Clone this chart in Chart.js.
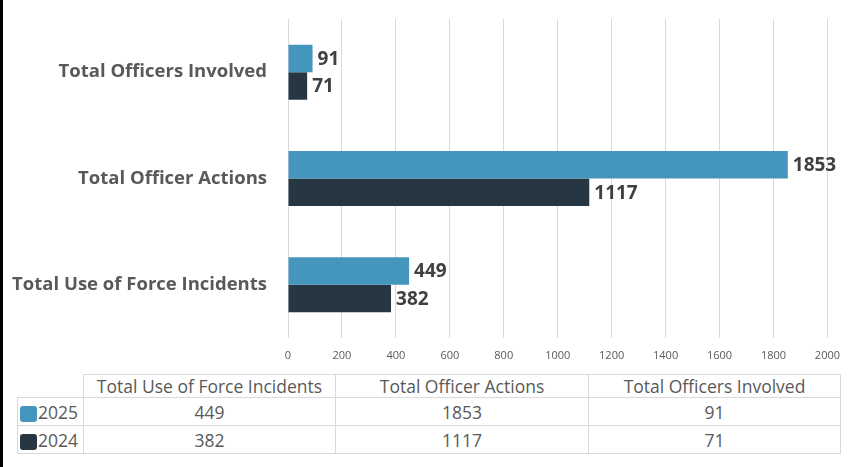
<!DOCTYPE html>
<html>
<head>
<meta charset="utf-8">
<script src="https://cdn.jsdelivr.net/npm/chart.js@4"></script>
<style>
  html, body { margin: 0; padding: 0; background: #fff; }
  body { width: 851px; height: 467px; position: relative; overflow: hidden; font-family: "Open Sans", sans-serif; }
  #faixa { position: absolute; left: 0; top: 0; width: 3px; height: 467px; background: #000; z-index: 2; }
  #grafico { position: absolute; left: 0; top: 0; width: 851px; height: 370px; }
  #tabela { position: absolute; left: 17px; top: 374px; border-collapse: collapse; table-layout: fixed; color: #595959; font-size: 17.5px; }
  #tabela td, #tabela th { border: 1px solid #d9d9d9; padding: 0; text-align: center; font-weight: normal; white-space: nowrap; line-height: 20px; }
  #tabela th.canto { border-top: none; border-left: none; }
  #tabela tr.cab th { height: 22px; }
  #tabela tr.lin td { height: 27px; }
  #tabela td.ano { text-align: left; padding-left: 2px; }
  .chave { display: inline-block; width: 17px; height: 16px; border-radius: 3px; vertical-align: -3px; margin-right: 1px; }
</style>
</head>
<body>
<div id="faixa"></div>
<div id="grafico"><canvas id="barras"></canvas></div>
<table id="tabela"></table>
<script>
// categorias na ordem da tabela (Excel desenha de baixo para cima)
const categorias = ["Total Use of Force Incidents", "Total Officer Actions", "Total Officers Involved"];
const anos = ["2025", "2024"];
const valores2025 = [449, 1853, 91];
const valores2024 = [382, 1117, 71];
const ticksX = [0, 200, 400, 600, 800, 1000, 1200, 1400, 1600, 1800, 2000];

const CORES = { "2025": "#4496bd", "2024": "#273643" };
const series = { "2025": valores2025, "2024": valores2024 };

// rótulos de valor à direita de cada barra
const rotulosValor = {
  id: "rotulosValor",
  afterDatasetsDraw(chart) {
    const ctx = chart.ctx;
    ctx.save();
    ctx.font = "bold 19px 'Open Sans', sans-serif";
    ctx.fillStyle = "#404040";
    ctx.textBaseline = "middle";
    ctx.textAlign = "left";
    chart.data.datasets.forEach((ds, i) => {
      chart.getDatasetMeta(i).data.forEach((bar, j) => {
        ctx.fillText(String(ds.data[j]), bar.x + 5, bar.y + 1);
      });
    });
    ctx.restore();
  },
};

new Chart(document.getElementById("barras"), {
  type: "bar",
  data: {
    labels: categorias,
    datasets: anos.map((a) => ({
      label: a,
      data: series[a],
      backgroundColor: CORES[a],
      borderWidth: 0,
      categoryPercentage: 0.517,
      barPercentage: 1.0,
    })),
  },
  options: {
    indexAxis: "y",
    responsive: true,
    maintainAspectRatio: false,
    animation: false,
    layout: { padding: { top: 19, right: 23, bottom: 0, left: 0 } },
    plugins: { legend: { display: false }, tooltip: { enabled: false } },
    scales: {
      x: {
        min: ticksX[0],
        max: ticksX[ticksX.length - 1],
        afterBuildTicks: (s) => { s.ticks = ticksX.map((v) => ({ value: v })); },
        afterFit: (s) => { s.height = 32; },
        grid: { color: "#d9d9d9", drawTicks: false },
        border: { display: false },
        ticks: {
          color: "#595959",
          padding: 11,
          font: { family: "'Open Sans', sans-serif", size: 11 },
          callback: (v) => String(v),
        },
      },
      y: {
        reverse: true,
        afterFit: (s) => { s.width = 288; s.paddingTop = 0; s.paddingBottom = 0; },
        grid: { display: false, drawTicks: false },
        border: { display: false },
        ticks: { color: "#595959", padding: 21, font: { family: "'Open Sans', sans-serif", size: 18.5, weight: "bold" } },
      },
    },
  },
  plugins: [rotulosValor],
});

// tabela de dados abaixo do gráfico
(function () {
  const t = document.getElementById("tabela");
  const larguras = [66, 252, 253, 252];
  const cg = document.createElement("colgroup");
  larguras.forEach((w) => {
    const c = document.createElement("col");
    c.style.width = w + "px";
    cg.appendChild(c);
  });
  t.appendChild(cg);

  const cab = document.createElement("tr");
  cab.className = "cab";
  cab.innerHTML = '<th class="canto"></th>' + categorias.map((c) => "<th>" + c + "</th>").join("");
  t.appendChild(cab);

  anos.forEach((a) => {
    const tr = document.createElement("tr");
    tr.className = "lin";
    tr.innerHTML =
      '<td class="ano"><span class="chave" style="background:' + CORES[a] + '"></span>' + a + "</td>" +
      series[a].map((v) => "<td>" + v + "</td>").join("");
    t.appendChild(tr);
  });
})();
</script>
</body>
</html>
